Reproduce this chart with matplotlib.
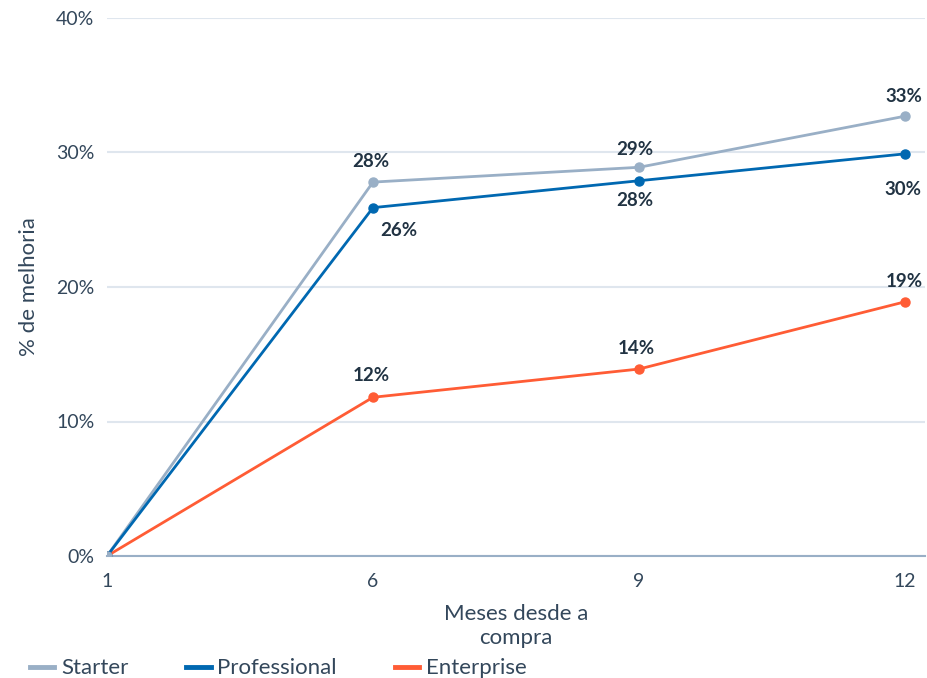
import matplotlib
matplotlib.use("Agg")
import matplotlib.pyplot as plt
from matplotlib.lines import Line2D

plt.rcParams['font.family'] = ['Lato', 'DejaVu Sans']

months = ["1", "6", "9", "12"]
starter = [0, 27.8, 28.9, 32.7]
professional = [0, 25.9, 27.9, 29.9]
enterprise = [0, 11.8, 13.9, 18.9]
starter_labels = ["", "28%", "29%", "33%"]
professional_labels = ["", "26%", "28%", "30%"]
enterprise_labels = ["", "12%", "14%", "19%"]
yticks = [0, 10, 20, 30, 40]
ytick_labels = ["0%", "10%", "20%", "30%", "40%"]

c_starter = "#99AFC6"
c_prof = "#0068B1"
c_ent = "#FF5C35"
c_text = "#33475B"
c_label = "#213343"

fig = plt.figure(figsize=(9.28, 6.78), dpi=100)
ax = fig.add_axes([107/928, (678-556)/678, (925-107)/928, (556-18)/678])

x = list(range(len(months)))
ax.plot(x, starter, color=c_starter, lw=2, marker='o', ms=6.5, zorder=3)
ax.plot(x, professional, color=c_prof, lw=2, marker='o', ms=6.5, zorder=4)
ax.plot(x, enterprise, color=c_ent, lw=2, marker='o', ms=6.5, zorder=3)
ax.plot([0], [starter[0]], color=c_starter, marker='o', ms=6.5, lw=0, zorder=5)

ax.set_xlim(0, 3 + 20/266)
ax.set_ylim(0, 40)
ax.set_xticks(x)
ax.set_xticklabels(months)
ax.set_yticks(yticks)
ax.set_yticklabels(ytick_labels)
ax.grid(axis='y', color='#DFE6EE', lw=1.5)
ax.set_axisbelow(True)
for s in ['top', 'right', 'left']:
    ax.spines[s].set_visible(False)
ax.spines['bottom'].set_color('#99AFC6')
ax.spines['bottom'].set_linewidth(1.5)
ax.spines['bottom'].set_zorder(2)
ax.tick_params(axis='both', length=0, labelsize=14, labelcolor=c_text)
ax.tick_params(axis='y', pad=9)
ax.tick_params(axis='x', pad=12)

ax.set_ylabel("% de melhoria", fontsize=16, color=c_text, labelpad=12)
ax.set_xlabel("Meses desde a\ncompra", fontsize=16, color=c_text, labelpad=10, linespacing=1.25)

s_off = [(0, 0), (-2, 21), (-4, 18), (-1, 20)]
p_off = [(0, 0), (26, -23), (-4, -20), (-2, -36)]
e_off = [(0, 0), (-2, 22), (-3, 21), (-1, 20)]
for series, labels, offs in [(starter, starter_labels, s_off),
                             (professional, professional_labels, p_off),
                             (enterprise, enterprise_labels, e_off)]:
    for xi, v, lab, off in zip(x, series, labels, offs):
        if lab:
            ax.annotate(lab, (xi, v), xytext=off, textcoords='offset pixels',
                        ha='center', va='center', fontsize=13.5, fontweight='bold',
                        color=c_label, zorder=6, annotation_clip=False)

handles = [Line2D([], [], color=c_starter, lw=3.5),
           Line2D([], [], color=c_prof, lw=3.5),
           Line2D([], [], color=c_ent, lw=3.5)]
leg = fig.legend(handles, ["Starter", "Professional", "Enterprise"],
                 loc='lower left', bbox_to_anchor=(10/928, -0.03), ncol=3,
                 frameon=False, fontsize=16, handlelength=1.1, handletextpad=0.3,
                 columnspacing=2.6)
for t in leg.get_texts():
    t.set_color(c_text)

fig.savefig("out.png", dpi=100)
